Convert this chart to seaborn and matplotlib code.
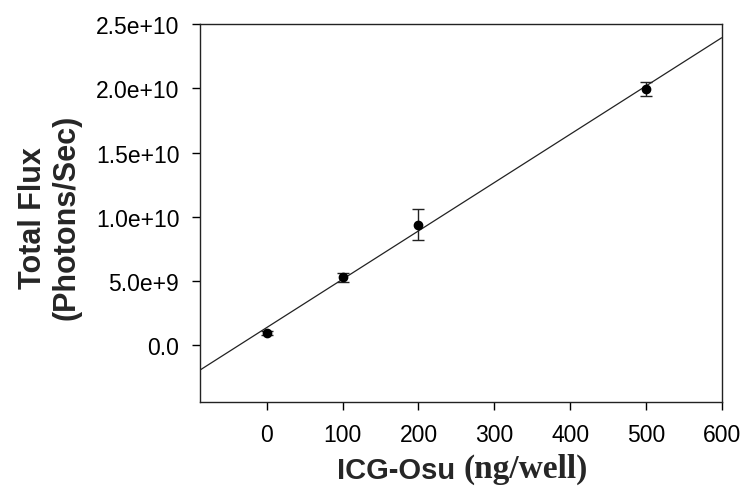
import numpy as np
import pandas as pd
import seaborn as sns
import matplotlib
matplotlib.use('Agg')
import matplotlib.pyplot as plt

# dados
dose = [0, 100, 200, 500]
fluxo = [0.99e9, 5.29e9, 9.38e9, 1.995e10]
erro = [0.15e9, 0.35e9, 1.2e9, 0.55e9]
yticks = [0, 5e9, 1e10, 1.5e10, 2e10, 2.5e10]
ytick_labels = ['0.0', '5.0e+9', '1.0e+10', '1.5e+10', '2.0e+10', '2.5e+10']
xticks = [0, 100, 200, 300, 400, 500, 600]

dados = pd.DataFrame({'dose': dose, 'fluxo': fluxo})

sns.set_style('ticks')
plt.rcParams['font.family'] = ['Liberation Sans', 'DejaVu Sans']

fig = plt.figure(figsize=(7.44, 4.89), dpi=100)
ax = fig.add_axes([0.269, 0.176, 0.701, 0.773])
ax.set_xlim(-88, 600)
ax.set_ylim(-4.4e9, 2.5e10)

# reta de regressão estendida até as bordas
sns.regplot(x='dose', y='fluxo', data=dados, ax=ax, scatter=False, ci=None,
            truncate=False, line_kws={'color': '#222222', 'lw': 0.9})
ax.errorbar(dose, fluxo, yerr=erro, fmt='o', color='black', ms=6,
            ecolor='#222222', elinewidth=1, capsize=4, capthick=1)

ax.set_xlim(-88, 600)
ax.set_ylim(-4.4e9, 2.5e10)
ax.set_xticks(xticks)
ax.set_yticks(yticks)
ax.set_yticklabels(ytick_labels)
ax.tick_params(labelsize=16.5, length=6, width=1, colors='black', pad=9)
for s in ax.spines.values():
    s.set_linewidth(1)
    s.set_color('#222222')

ax.set_xlabel('')
ax.set_ylabel('Total Flux\n(Photons/Sec)', fontsize=22, fontweight='bold',
              linespacing=1.15)
ax.yaxis.set_label_coords(-0.228, 0.49)

# rótulo do eixo x com duas fontes
t1 = fig.text(337 / 744, 1 - 479 / 489, 'ICG-Osu ', fontsize=21,
              fontweight='bold', ha='left', va='baseline')
fig.canvas.draw()
ax.annotate('(ng/well)', xy=(1, 0), xycoords=t1, va='bottom', ha='left',
            fontsize=24, fontweight='bold', family='Liberation Serif')

fig.savefig('out.png', dpi=100)
